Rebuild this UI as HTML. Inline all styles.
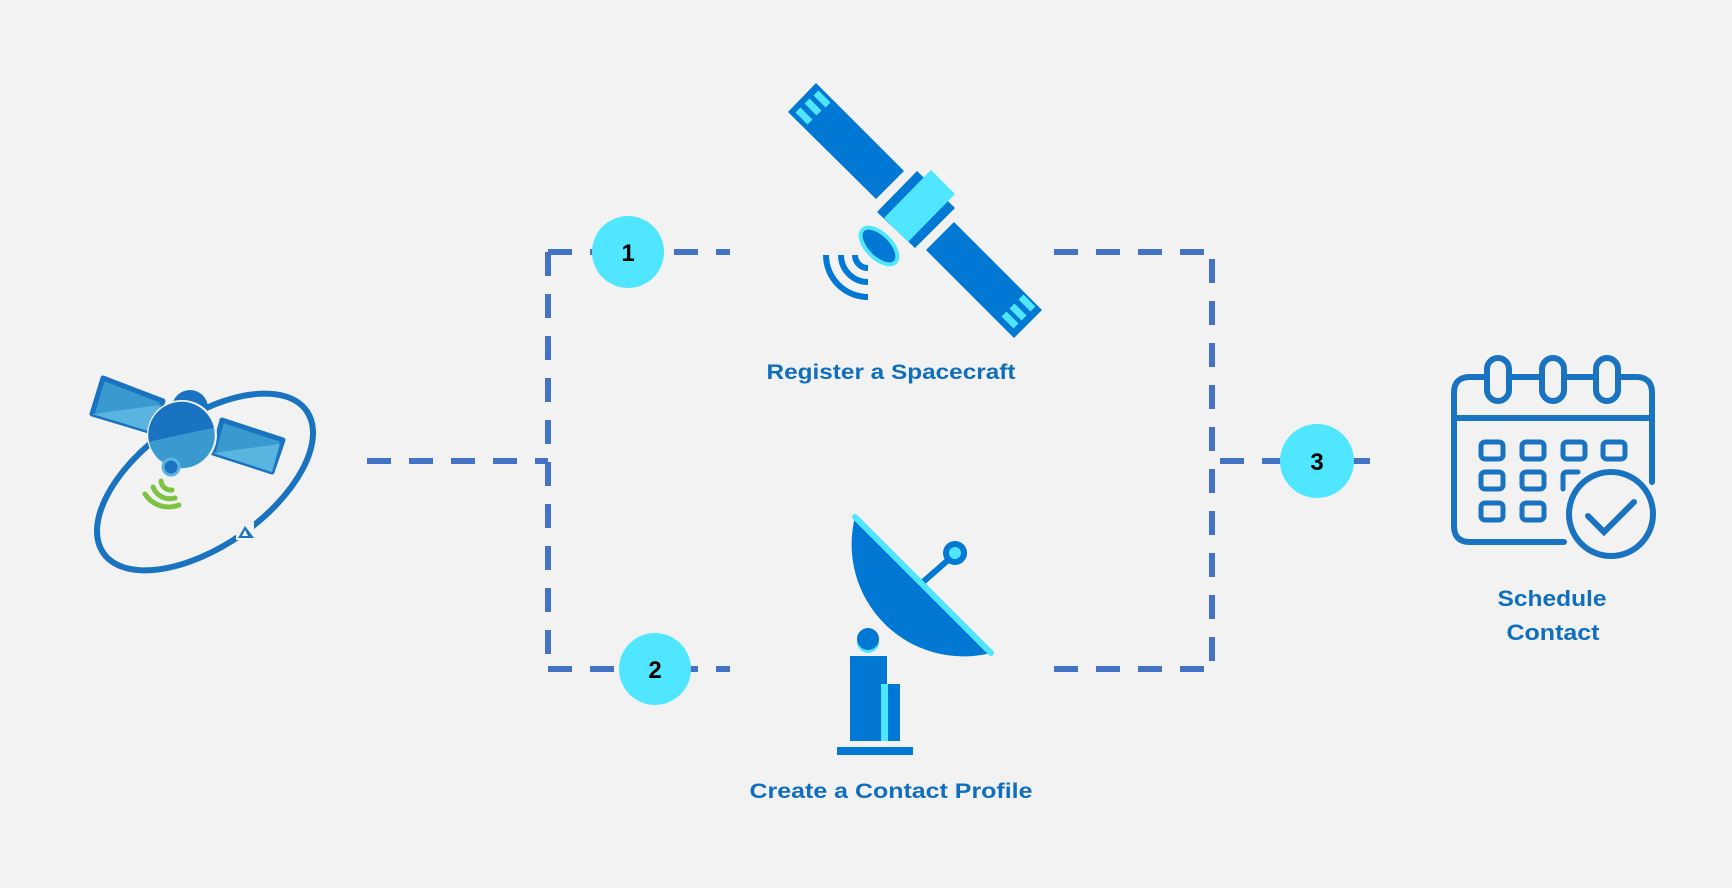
<!DOCTYPE html>
<html><head><meta charset="utf-8"><style>
html,body{margin:0;padding:0;background:#f2f2f2;}
svg{display:block;}
text{font-family:"Liberation Sans",sans-serif;font-weight:bold;}
</style></head><body>
<svg width="1732" height="888" viewBox="0 0 1732 888" xmlns="http://www.w3.org/2000/svg">
<rect width="1732" height="888" fill="#f2f2f2"/>
<g stroke="#4472c4" stroke-width="6" fill="none" stroke-dasharray="24 18">
<line x1="367" y1="461" x2="548" y2="461"/>
<line x1="548" y1="252" x2="548" y2="669"/>
<line x1="548" y1="252" x2="730" y2="252"/>
<line x1="548" y1="669" x2="730" y2="669"/>
<line x1="1054" y1="252" x2="1212" y2="252"/>
<line x1="1054" y1="669" x2="1212" y2="669"/>
<line x1="1212" y1="259" x2="1212" y2="669"/>
<line x1="1220" y1="461" x2="1371" y2="461"/>
</g>
<g fill="#50e6ff">
<circle cx="628" cy="252" r="36"/>
<circle cx="655" cy="669" r="36"/>
<circle cx="1317" cy="461" r="37"/>
</g>
<g font-size="24" fill="#000" text-anchor="middle">
<text x="628" y="261">1</text>
<text x="655" y="678">2</text>
<text x="1317" y="470">3</text>
</g>
<g>
<polygon points="788,112 816,83 904,171 876,199" fill="#0078d4"/>
<polygon points="926,250 954,222 1042,310 1014,338" fill="#0078d4"/>
<polygon points="877,212 917,171 955,208 915,248" fill="#0078d4"/>
<polygon points="884,218 931,170 955,194 908,242" fill="#50e6ff"/>
<g stroke="#50e6ff" stroke-width="7">
<line x1="798" y1="110" x2="810" y2="122"/>
<line x1="807" y1="101" x2="819" y2="113"/>
<line x1="816" y1="93" x2="828" y2="105"/>
<line x1="1004" y1="314" x2="1016" y2="326"/>
<line x1="1012" y1="306" x2="1024" y2="318"/>
<line x1="1021" y1="297" x2="1033" y2="309"/>
</g>
<ellipse cx="879" cy="246" rx="12" ry="23" transform="rotate(-45 879 246)" fill="#0078d4" stroke="#50e6ff" stroke-width="4"/>
<g stroke="#0078d4" stroke-width="6" fill="none">
<path d="M868 268 A13 13 0 0 1 855 255"/>
<path d="M868 282 A27 27 0 0 1 841 255"/>
<path d="M868 297 A42 42 0 0 1 826 255"/>
</g>
</g>
<text x="891" y="379" font-size="21" fill="#106ebe" text-anchor="middle" textLength="249" lengthAdjust="spacingAndGlyphs">Register a Spacecraft</text>
<g>
<line x1="923" y1="582" x2="955" y2="554" stroke="#0078d4" stroke-width="6"/>
<circle cx="955" cy="553" r="12" fill="#0078d4"/>
<circle cx="955" cy="553" r="6" fill="#50e6ff"/>
<path d="M855 517 L991 653 A112 112 0 0 1 855 517 Z" fill="#0078d4"/>
<line x1="855" y1="517" x2="991" y2="653" stroke="#50e6ff" stroke-width="6" stroke-linecap="round"/>
<circle cx="868" cy="642" r="11" fill="#50e6ff"/>
<circle cx="868" cy="639" r="11" fill="#0078d4"/>
<rect x="850" y="656" width="37" height="85" fill="#0078d4"/>
<rect x="881" y="684" width="7" height="57" fill="#50e6ff"/>
<rect x="888" y="684" width="12" height="57" fill="#0078d4"/>
<rect x="837" y="747" width="76" height="8" fill="#0078d4"/>
</g>
<text x="891" y="798" font-size="21" fill="#106ebe" text-anchor="middle" textLength="283" lengthAdjust="spacingAndGlyphs">Create a Contact Profile</text>
<g stroke="#1a73c0" stroke-width="6" fill="none" stroke-linecap="round">
<path d="M1564 542 H1470 Q1454 542 1454 526 V393 Q1454 377 1470 377 H1636 Q1652 377 1652 393 V482"/>
<line x1="1454" y1="418" x2="1652" y2="418"/>
<rect x="1487" y="358" width="22" height="43" rx="11" fill="#f2f2f2"/>
<rect x="1542" y="358" width="22" height="43" rx="11" fill="#f2f2f2"/>
<rect x="1596" y="358" width="22" height="43" rx="11" fill="#f2f2f2"/>
<g stroke-width="5">
<rect x="1481" y="442" width="22" height="17" rx="4"/>
<rect x="1522" y="442" width="22" height="17" rx="4"/>
<rect x="1563" y="442" width="22" height="17" rx="4"/>
<rect x="1603" y="442" width="22" height="17" rx="4"/>
<rect x="1481" y="472" width="22" height="17" rx="4"/>
<rect x="1522" y="472" width="22" height="17" rx="4"/>
<path d="M1563 489 V476 Q1563 472 1567 472 H1578"/>
<rect x="1481" y="503" width="22" height="17" rx="4"/>
<rect x="1522" y="503" width="22" height="17" rx="4"/>
</g>
<circle cx="1611" cy="514" r="42" fill="#f2f2f2"/>
<path d="M1588 516 L1604 532 L1634 502"/>
</g>
<text x="1552" y="606" font-size="22" fill="#106ebe" text-anchor="middle" textLength="109" lengthAdjust="spacingAndGlyphs">Schedule</text>
<text x="1553" y="640" font-size="22" fill="#106ebe" text-anchor="middle" textLength="93" lengthAdjust="spacingAndGlyphs">Contact</text>
<g>
<ellipse cx="205" cy="482" rx="124" ry="64" transform="rotate(-35 205 482)" fill="none" stroke="#1a73c0" stroke-width="6"/>
<circle cx="190" cy="408" r="18" fill="#1a73c0"/>
<polygon points="103,378 163,401 152,432 92,414" fill="#3a9ad0" stroke="#1a73c0" stroke-width="5" stroke-linejoin="round"/>
<polygon points="161,405 152,432 92,414" fill="#5ab4e0"/>
<polygon points="222,420 283,440 272,472 213,453" fill="#3a9ad0" stroke="#1a73c0" stroke-width="5" stroke-linejoin="round"/>
<polygon points="280,444 272,472 213,453" fill="#5ab4e0"/>
<circle cx="182" cy="435" r="35" fill="#f2f2f2"/>
<path d="M149 442 A33 33 0 1 1 214 428 Z" fill="#1a73c0"/>
<path d="M149 442 L214 428 A33 33 0 0 1 149 442 Z" fill="#3a9ad0"/>
<line x1="182" y1="435" x2="172" y2="467" stroke="#3a9ad0" stroke-width="5"/>
<circle cx="171" cy="467" r="8" fill="#1a73c0" stroke="#5ab4e0" stroke-width="3"/>
<g stroke="#7dc242" stroke-width="5" fill="none" stroke-linecap="round">
<path d="M161 481 A10 10 0 0 0 172 490"/>
<path d="M153 487 A18 18 0 0 0 175 498"/>
<path d="M145 494 A28 28 0 0 0 179 505"/>
</g>
<rect x="236" y="522" width="18" height="18" fill="#f2f2f2"/>
<polygon points="245,526 238,538 254,538" fill="#1a73c0"/>
<polygon points="245,530 242,536 248,536" fill="#fff"/>
</g>
</svg>
</body></html>
